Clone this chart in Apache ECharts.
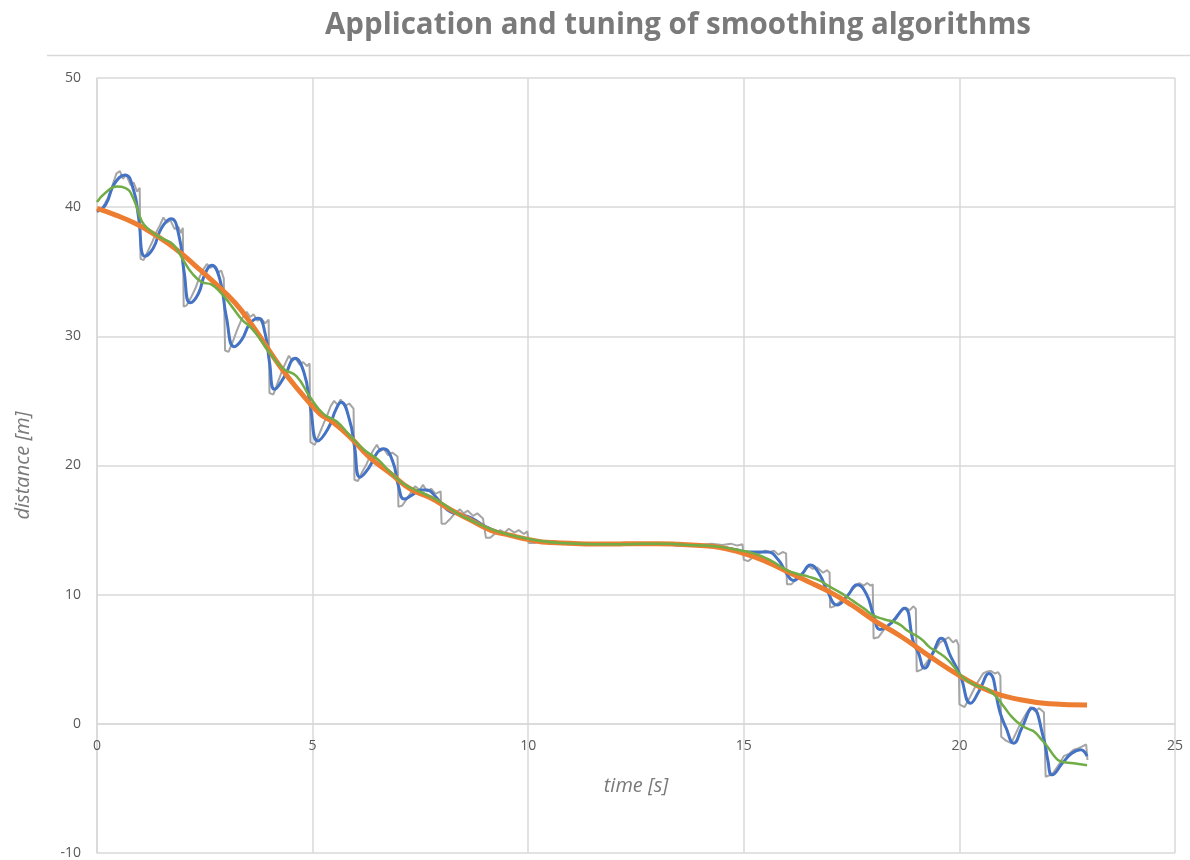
<!DOCTYPE html>
<html lang="en">
<head>
    <meta charset="UTF-8">
    <title>Application and tuning of smoothing algorithms</title>
    <script src="https://cdn.jsdelivr.net/npm/echarts/dist/echarts.min.js"></script>
    <style>
        html, body { margin: 0; padding: 0; background: #fff; }
        #chart { width: 1190px; height: 860px; }
    </style>
</head>
<body>
    <div id="chart"></div>
    <script>
        // raw measurement (gray)
        var rawTime = [0, 0.12, 0.25, 0.35, 0.45, 0.53, 0.6, 0.68, 0.78, 0.85, 0.93, 0.99, 1.01, 1.08, 1.18, 1.28, 1.38, 1.46, 1.54, 1.62, 1.7, 1.8, 1.88, 1.95, 1.99,
            2.01, 2.08, 2.18, 2.28, 2.38, 2.47, 2.55, 2.63, 2.72, 2.8, 2.88, 2.94, 2.97, 3.05, 3.15, 3.25, 3.35, 3.47, 3.55, 3.63, 3.72, 3.8, 3.9, 3.98,
            4.0, 4.09, 4.2, 4.3, 4.38, 4.45, 4.53, 4.6, 4.7, 4.78, 4.87, 4.93, 4.95, 5.05, 5.15, 5.25, 5.34, 5.42, 5.5, 5.58, 5.65, 5.75, 5.85, 5.95,
            5.97, 6.05, 6.15, 6.25, 6.33, 6.41, 6.49, 6.57, 6.65, 6.75, 6.85, 6.97, 6.99, 7.08, 7.18, 7.28, 7.38, 7.48, 7.56, 7.65, 7.75, 7.85, 7.97,
            7.99, 8.08, 8.2, 8.3, 8.42, 8.5, 8.6, 8.72, 8.82, 8.95, 8.99, 9.02, 9.12, 9.25, 9.35, 9.45, 9.55, 9.68, 9.78, 9.9, 9.98,
            10.01, 10.15, 10.3, 10.45, 10.6, 10.8, 11.0, 11.3, 11.6, 11.9, 12.2, 12.5, 12.8, 13.1, 13.4, 13.7, 14.0, 14.25, 14.5, 14.7, 14.85, 14.97,
            15.0, 15.1, 15.22, 15.35, 15.5, 15.6, 15.7, 15.8, 15.9, 15.98, 16.0, 16.1, 16.22, 16.35, 16.5, 16.6, 16.7, 16.84, 16.93, 16.99,
            17.0, 17.1, 17.25, 17.4, 17.55, 17.68, 17.78, 17.86, 17.94, 17.99, 18.01, 18.12, 18.25, 18.41, 18.55, 18.65, 18.75, 18.85, 18.93, 18.99,
            19.01, 19.12, 19.25, 19.4, 19.55, 19.65, 19.75, 19.85, 19.93, 19.98, 20.0, 20.12, 20.25, 20.41, 20.55, 20.64, 20.72, 20.82, 20.9, 20.95,
            20.97, 21.08, 21.2, 21.3, 21.42, 21.55, 21.65, 21.75, 21.85, 21.96, 22.0, 22.15, 22.3, 22.42, 22.55, 22.65, 22.75, 22.85, 22.94, 22.97];
        var rawDist = [39.6, 39.9, 40.7, 41.6, 42.6, 42.8, 42.2, 42.5, 41.7, 41.9, 41.2, 41.5, 36.0, 35.9, 36.6, 37.3, 38.1, 38.6, 39.2, 38.8, 39.0, 38.3, 38.5, 38.0, 38.4,
            32.3, 32.4, 33.0, 33.7, 34.6, 35.2, 35.6, 35.3, 35.5, 34.9, 35.1, 34.5, 28.9, 28.8, 29.6, 30.5, 31.3, 31.9, 31.5, 31.7, 31.2, 31.4, 31.0, 31.3,
            25.6, 25.5, 26.5, 27.4, 28.0, 28.5, 28.1, 28.3, 27.8, 28.0, 27.7, 27.9, 21.8, 21.6, 22.4, 23.2, 23.9, 24.6, 25.0, 24.7, 25.1, 24.6, 24.8, 24.4,
            18.9, 18.8, 19.5, 20.1, 20.7, 21.2, 21.6, 21.1, 21.3, 20.8, 21.0, 20.7, 16.8, 16.9, 17.4, 17.9, 18.4, 18.1, 18.5, 18.0, 18.2, 17.8, 18.0,
            15.5, 15.5, 15.9, 16.3, 16.6, 16.3, 16.5, 16.1, 16.3, 15.9, 16.0, 14.4, 14.4, 14.8, 15.0, 14.8, 15.1, 14.8, 15.0, 14.7, 14.9,
            14.0, 14.0, 14.15, 14.05, 14.15, 13.95, 14.0, 13.9, 13.95, 13.85, 13.95, 13.9, 14.0, 13.95, 14.0, 13.9, 13.85, 13.95, 13.85, 13.95, 13.8, 13.9,
            12.7, 12.6, 12.9, 13.2, 13.4, 13.3, 13.4, 13.1, 13.3, 13.2, 10.8, 10.8, 11.2, 11.65, 12.2, 12.0, 12.1, 11.7, 11.9, 11.7,
            9.0, 9.1, 9.5, 9.9, 10.5, 10.9, 10.7, 10.9, 10.7, 10.8, 6.6, 6.7, 7.3, 7.8, 8.4, 8.7, 9.0, 8.8, 9.1, 8.9,
            4.05, 4.2, 4.8, 5.5, 6.3, 6.5, 6.7, 6.3, 6.5, 6.1, 1.5, 1.3, 2.1, 3.15, 3.9, 4.05, 4.1, 3.9, 4.0, 3.7,
            -1.0, -1.3, -1.5, -0.8, 0.05, 0.8, 1.3, 1.0, 1.2, 0.9, -4.1, -3.9, -3.2, -2.5, -2.3, -2.0, -1.9, -1.75, -1.6, -2.8];

        // light smoothing (blue)
        var blueTime = [0, 0.2, 0.4, 0.65, 0.85, 0.96, 1.11, 1.3, 1.5, 1.72, 1.9, 2.02, 2.16, 2.35, 2.5, 2.66, 2.85, 3.0, 3.18, 3.35, 3.55, 3.74, 3.9, 4.0,
            4.12, 4.35, 4.59, 4.8, 4.95, 5.12, 5.35, 5.55, 5.66, 5.85, 5.97, 6.1, 6.3, 6.5, 6.64, 6.85, 7.0, 7.12, 7.3, 7.5, 7.65, 7.85, 8.0, 8.2, 8.45, 8.7,
            9.0, 9.3, 9.6, 10.0, 10.5, 11.0, 11.5, 12.0, 12.5, 13.0, 13.5, 14.0, 14.45, 14.8, 15.1, 15.35, 15.55, 15.8, 16.0, 16.15, 16.35, 16.54, 16.75, 16.95,
            17.16, 17.4, 17.63, 17.85, 18.0, 18.17, 18.45, 18.72, 18.94, 19.05, 19.19, 19.4, 19.58, 19.8, 20.02, 20.26, 20.45, 20.68, 20.95, 21.08, 21.26, 21.45,
            21.69, 21.96, 22.05, 22.15, 22.4, 22.6, 22.81, 22.96];
        var blueDist = [39.7, 40.2, 41.8, 42.5, 41.3, 39.3, 36.2, 36.8, 38.4, 39.1, 37.8, 35.0, 32.6, 33.3, 34.8, 35.5, 34.4, 31.5, 29.2, 29.7, 31.0, 31.4, 30.2, 28.0,
            25.9, 26.9, 28.3, 27.2, 24.5, 21.9, 22.8, 24.4, 24.9, 23.6, 21.5, 19.1, 19.8, 21.0, 21.3, 20.4, 18.3, 17.4, 17.7, 18.1, 18.1, 17.6, 17.0, 16.4, 16.2, 15.9,
            15.3, 14.85, 14.6, 14.25, 14.05, 13.95, 13.9, 13.9, 13.95, 13.95, 13.85, 13.8, 13.7, 13.5, 13.3, 13.3, 13.3, 12.7, 11.6, 11.1, 11.6, 12.3, 11.6, 10.2,
            9.2, 9.9, 10.76, 10.0, 8.5, 7.3, 7.9, 8.95, 6.25, 5.5, 4.3, 5.6, 6.63, 5.2, 3.75, 1.6, 2.5, 3.9, 0.8, -0.3, -1.5, -0.3,
            1.2, -1.2, -2.8, -3.95, -3.0, -2.3, -2.0, -2.5];

        // strong smoothing (orange)
        var orangeTime = [0, 0.42, 0.88, 1.35, 1.81, 2.27, 2.74, 3.2, 3.59, 4.25, 4.71, 5.17, 5.41, 5.87, 6.33, 6.8, 7.26, 7.73, 8.19, 8.65, 9.12, 9.58,
            10.05, 10.51, 10.97, 11.5, 12.0, 12.5, 13.0, 13.5, 14.0, 14.45, 15.23, 16.0, 16.5, 17.0, 17.5, 18.0, 18.63, 19.32, 20.02, 20.72, 21.42, 22.11, 22.96];
        var orangeDist = [39.9, 39.4, 38.75, 37.85, 36.8, 35.5, 34.1, 32.6, 30.9, 27.65, 25.7, 24.0, 23.5, 22.2, 20.6, 19.4, 18.2, 17.5, 16.6, 15.8, 15.0, 14.6,
            14.24, 14.03, 13.98, 13.92, 13.92, 13.95, 13.95, 13.9, 13.8, 13.65, 12.95, 11.8, 11.0, 10.2, 9.2, 8.05, 6.8, 5.2, 3.7, 2.5, 1.86, 1.55, 1.45];

        // medium smoothing (green)
        var greenTime = [0, 0.19, 0.46, 0.65, 0.84, 1.04, 1.23, 1.5, 1.77, 2.0, 2.2, 2.43, 2.66, 2.89, 3.13, 3.36, 3.59, 3.8, 4.01, 4.32, 4.63, 4.94, 5.25, 5.56, 5.87,
            6.2, 6.5, 6.8, 7.1, 7.4, 7.73, 8.0, 8.35, 8.65, 9.12, 9.5, 9.89, 10.3, 10.74, 11.2, 11.7, 12.2, 12.7, 13.2, 13.7, 14.1, 14.45, 14.8, 15.23, 15.6,
            16.0, 16.25, 16.5, 16.75, 17.0, 17.27, 17.54, 17.8, 18.0, 18.25, 18.48, 18.63, 18.8, 19.1, 19.32, 19.48, 19.75, 20.02, 20.2, 20.41, 20.64, 20.85,
            21.03, 21.2, 21.42, 21.6, 21.73, 21.9, 22.04, 22.2, 22.34, 22.65, 22.96];
        var greenDist = [40.4, 41.1, 41.6, 41.5, 40.7, 38.9, 38.2, 37.6, 37.1, 35.9, 34.9, 34.2, 34.0, 33.3, 32.3, 31.3, 30.6, 29.7, 28.7, 27.5, 26.9, 25.3, 24.0, 23.4, 22.3,
            21.2, 20.5, 19.5, 18.6, 18.1, 17.6, 17.1, 16.3, 15.8, 15.1, 14.7, 14.4, 14.15, 14.0, 13.95, 13.9, 13.9, 13.95, 13.95, 13.85, 13.8, 13.7, 13.5, 13.2, 12.7,
            11.9, 11.6, 11.4, 11.1, 10.6, 10.1, 9.5, 8.9, 8.4, 8.1, 7.9, 7.66, 7.2, 6.6, 5.9, 5.6, 4.9, 3.8, 3.3, 2.94, 2.7, 2.1,
            1.34, 0.6, -0.08, -0.4, -0.6, -1.2, -1.75, -2.5, -2.9, -3.05, -3.2];

        function pairs(ts, vs) {
            return ts.map(function (t, i) { return [t, vs[i]]; });
        }

        var chart = echarts.init(document.getElementById('chart'));
        var gridColor = '#d9d9d9';
        var textColor = '#595959';

        function lineSeries(name, ts, vs, color, width, smooth) {
            return {
                name: name,
                type: 'line',
                data: pairs(ts, vs),
                smooth: smooth,
                showSymbol: false,
                lineStyle: { color: color, width: width },
                itemStyle: { color: color }
            };
        }

        // plot area: 78..853 px for -10..50 -> the zero line sits 10/60 of the height above the bottom
        var plotTop = 78, plotBottom = 853;
        var zeroShift = (plotBottom - plotTop) * 10 / 60;

        chart.setOption({
            animation: false,
            title: {
                text: 'Application and tuning of smoothing algorithms',
                left: 673,
                textAlign: 'center',
                top: 6,
                textStyle: { fontFamily: 'Open Sans', fontSize: 29.5, fontWeight: 'bold', color: '#7a7a7a' }
            },
            graphic: [{
                type: 'line',
                shape: { x1: 47, y1: 55.5, x2: 1190, y2: 55.5 },
                style: { stroke: gridColor, lineWidth: 1.5 }
            }],
            grid: { left: 97, right: 15, top: plotTop, bottom: 860 - plotBottom, outerBoundsMode: 'none' },
            xAxis: {
                type: 'value',
                position: 'bottom',
                offset: -zeroShift,
                min: 0, max: 25, interval: 5,
                name: 'time [s]',
                nameLocation: 'middle',
                nameGap: 52,
                nameTextStyle: { fontFamily: 'Open Sans', fontSize: 20, fontStyle: 'italic', color: '#7a7a7a' },
                axisLine: { show: true, onZero: false, lineStyle: { color: gridColor, width: 1.5 } },
                axisTick: { show: false },
                axisLabel: { margin: 15, color: textColor, fontFamily: 'Open Sans', fontSize: 14 },
                splitLine: { lineStyle: { color: gridColor, width: 1.5 } }
            },
            yAxis: {
                type: 'value',
                min: -10, max: 50, interval: 10,
                name: 'distance [m]',
                nameLocation: 'middle',
                nameGap: 64,
                nameTextStyle: { fontFamily: 'Open Sans', fontSize: 20, fontStyle: 'italic', color: '#7a7a7a' },
                axisLine: { show: true, onZero: false, lineStyle: { color: gridColor, width: 1.5 } },
                axisTick: { show: false },
                axisLabel: { margin: 16, color: textColor, fontFamily: 'Open Sans', fontSize: 14 },
                splitLine: { lineStyle: { color: gridColor, width: 1.5 } }
            },
            series: [
                lineSeries('raw', rawTime, rawDist, '#a5a5a5', 2, false),
                lineSeries('light', blueTime, blueDist, '#4472c4', 3, true),
                lineSeries('strong', orangeTime, orangeDist, '#ed7d31', 5, true),
                lineSeries('medium', greenTime, greenDist, '#70ad47', 2.5, true)
            ]
        });
    </script>
</body>
</html>
